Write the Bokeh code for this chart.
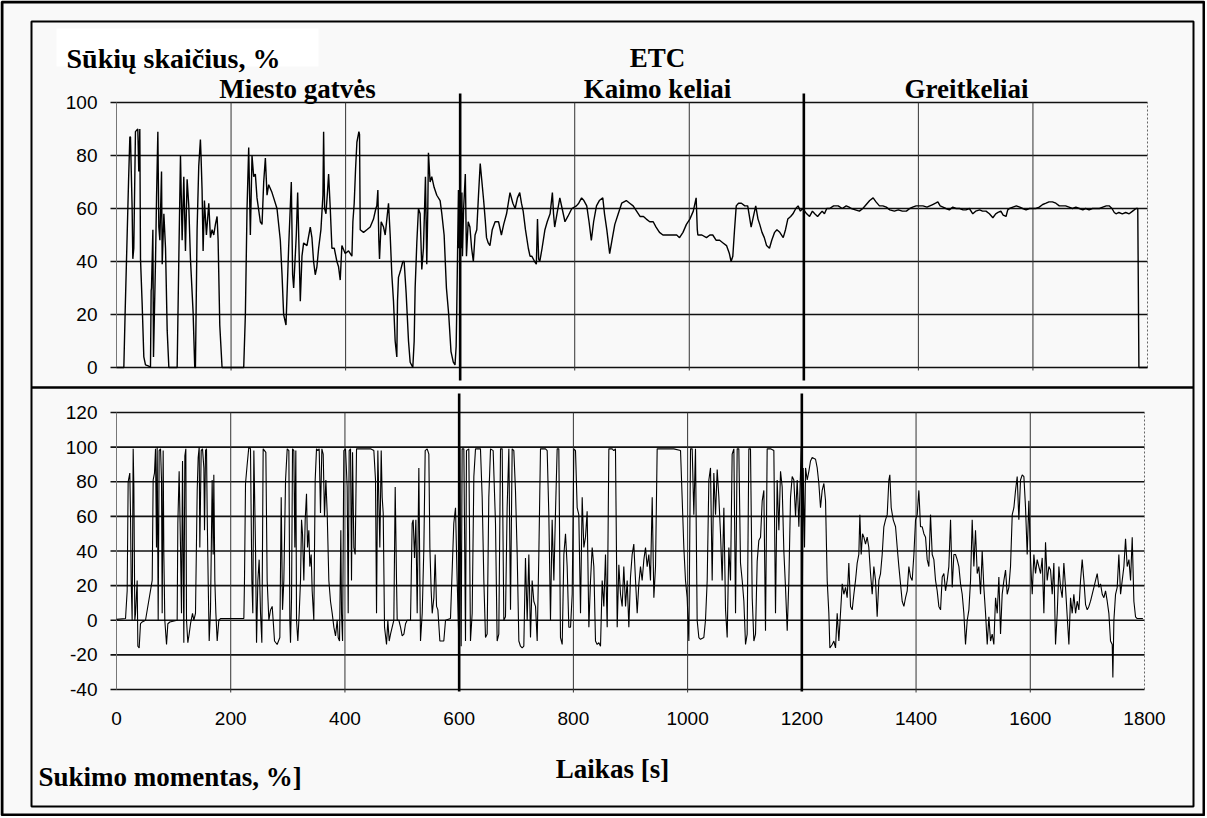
from bokeh.plotting import figure
from bokeh.models import Range1d
from bokeh.embed import file_html
from bokeh.resources import INLINE
from bokeh.core.properties import value

# ---------------- data ----------------
speed_t = [0, 12.8, 15, 18.6, 21, 23.3, 24.4, 27.3, 28.5, 30.2, 33.1, 37.2, 38.9, 40.7, 41.9, 44.8, 47.7, 50.6,
           56.4, 59.3, 60.5, 61.1, 63.5, 64.6, 68.1, 69.9, 72.2, 73.9, 75.7, 78.6, 79.8, 82.7, 85.6, 88.5, 91.4,
           105.9, 108.8, 111.7, 114.6, 117.5, 120.4, 123.3, 126.2, 129.1, 133.7, 136.6, 137.8, 140.7, 143.6,
           146.5, 147.7, 149.4, 151.2, 153.5, 157, 161.1, 164, 166.9, 169.8, 172.7, 175.6, 177.4, 180.3, 184.3,
           222.1, 225, 227.9, 230.8, 233.7, 236.6, 239.5, 242.4, 245.3, 251.1, 254.1, 257, 259.9, 262.8, 265.7,
           271.5, 274.4, 280.2, 286, 289, 291.8, 295.9, 300.5, 305.2, 307.5, 309.3, 313.9, 316.3, 319.2, 320.9,
           323.8, 326.7, 332.5, 338.3, 341.2, 344.1, 347, 349.9, 352.9, 356.9, 360.4, 361.6, 363.3, 365.7, 368.6,
           370.3, 373.2, 376.1, 380.2, 384.8, 387.7, 390.6, 393.5, 399.3, 405.1, 411, 412.7, 415, 417.4, 419.7,
           423.2, 424.3, 425.5, 431.3, 437.1, 442.9, 448.7, 452.8, 454.5, 456.3, 458, 459.2, 462.1, 466.2, 469.1,
           472, 474.9, 477.8, 480.7, 483.6, 486.5, 489.4, 490.6, 492.3, 496.4, 499.9, 502.2, 505.7, 509.8, 512.7,
           517.3, 519.7, 521.4, 524.3, 527.2, 530.1, 533, 535.9, 539.4, 541.7, 543.5, 544.6, 547.5, 550.4, 554.5,
           559.2, 565, 568, 572, 576, 580, 584, 588, 591, 593, 594, 597, 598, 599, 600, 601, 602, 603, 604, 606,
           609, 611, 614, 617, 620, 623, 626, 629, 632, 635, 638, 641, 644, 646, 649, 652, 656, 661, 667, 672,
           676, 681, 687, 692, 696, 700, 704, 707, 710, 714, 719, 722, 725, 730, 733, 735, 737, 739, 743, 748,
           752, 757, 761, 763, 765, 769, 774, 778, 783, 788, 795, 803, 807, 812, 816, 821, 825, 829, 833, 838,
           843, 849, 852, 856, 861, 865, 870, 876, 882, 890, 896, 902, 908, 914, 920, 925, 931, 937, 942, 948,
           954, 960, 966, 972, 978, 983, 989, 995, 1001, 1007, 1012, 1014, 1015, 1022, 1030, 1036, 1041, 1047,
           1053, 1059, 1065, 1070, 1073, 1076, 1079, 1082, 1086, 1091, 1097, 1102, 1105, 1108, 1112, 1116, 1120,
           1123, 1127, 1131, 1135, 1140, 1144, 1149, 1153, 1158, 1164, 1168, 1172, 1177, 1181, 1186, 1190, 1194,
           1198, 1205, 1210, 1215, 1219, 1224, 1228, 1232, 1236, 1240, 1245, 1252, 1260, 1267, 1274, 1279, 1283,
           1290, 1297, 1303, 1309, 1315, 1321, 1326, 1332, 1338, 1344, 1350, 1358, 1365, 1372, 1379, 1385, 1390,
           1396, 1402, 1408, 1415, 1420, 1425, 1430, 1434, 1438, 1443, 1448, 1454, 1460, 1466, 1472, 1478, 1483,
           1489, 1495, 1500, 1507, 1512, 1518, 1524, 1530, 1535, 1539, 1544, 1548, 1553, 1556, 1559, 1565, 1571,
           1577, 1582, 1588, 1594, 1600, 1605, 1611, 1617, 1623, 1628, 1634, 1640, 1646, 1652, 1657, 1663, 1669,
           1675, 1681, 1687, 1692, 1698, 1704, 1710, 1716, 1722, 1728, 1733, 1738, 1742, 1745, 1750, 1756, 1762,
           1768, 1774, 1780, 1783, 1785, 1800]
speed_v = [0, 0, 20, 50, 70, 87, 87, 60, 41, 45, 89, 90, 74, 90, 41, 24, 4, 1,
           0.5, 0, 29, 30, 52, 4, 40, 64, 89, 53, 48, 74, 39, 58, 45, 14, 0,
           0, 41, 80, 48, 72, 44, 71, 61, 41, 21, 0, 0, 52, 76,
           86, 79, 67, 44, 63, 50, 62, 49, 52, 50, 54, 57, 48, 16, 0,
           0, 20, 60, 83, 50, 80, 72, 73, 64, 55, 54, 70, 79, 65, 69,
           66, 64, 60, 48, 35, 20, 16, 45, 70, 35, 30, 50, 66, 40, 25,
           42, 47, 46, 53, 49, 40, 35, 38, 45, 52, 65, 89, 60, 58, 67,
           73, 60, 45, 45, 40, 38, 33, 46, 43, 44, 42, 55, 62, 75, 85,
           89, 88, 52, 51, 52, 53, 56, 60, 61, 67, 48, 41, 55, 53, 50,
           56, 62, 50, 35, 25, 10, 4, 25, 34, 37, 40, 40, 28, 10, 2,
           0, 10, 30, 47, 60, 58, 37, 45, 72, 39, 60, 81, 70, 72, 68,
           65, 63, 58, 50, 30, 20, 6, 2, 1, 8, 21, 67, 45, 62, 30, 60, 45, 66, 42, 60,
           73, 42, 55, 53, 45, 40, 50, 52, 65, 77, 70, 63, 55, 49, 47, 46, 52, 55, 55, 50,
           54, 58, 66, 62, 60, 64, 66, 62, 59, 52, 45, 42, 42, 40, 39, 56, 41, 40, 45, 52,
           55, 58, 66, 58, 53, 58, 64, 60, 55, 57, 60, 61, 62, 64, 63, 61, 55, 48, 55, 61,
           63, 64, 58, 52, 43, 48, 54, 58, 62, 63, 62, 61, 59, 57, 57, 56, 55, 55, 53, 51,
           50, 50, 50, 50, 50, 49, 51, 54, 56, 59, 64, 52, 50, 50, 49, 50, 50, 48,
           48, 47, 46, 43, 40, 42, 52, 61, 62, 62, 61, 61, 57, 53, 57, 61, 56,
           54, 51, 49, 46, 45, 48, 51, 52, 51, 49, 52, 56, 57, 58, 60, 61, 59,
           60, 58, 57, 59, 58, 57, 58, 59, 58, 60, 60, 61, 61, 60, 61, 60.5, 60,
           59.5, 59, 60, 61.5, 63, 64, 62.5, 61, 61, 60.5, 59.5, 59, 59.5, 59, 59, 60, 60.5,
           61, 61, 61, 60.5, 61, 61.5, 62, 62.5, 61, 60.5, 60, 59.5, 60.5, 60, 60, 59.5, 59.5,
           60, 58, 59, 59.5, 59, 59, 58, 56.5, 58, 58.5, 59, 57.5, 57, 59.5, 60, 60.5, 61,
           60.5, 60, 59.5, 60, 60, 60, 60.5, 61.5, 62, 62.5, 62.5, 62, 61, 61, 61, 60.5, 60,
           60.5, 60, 59.5, 60, 59.5, 60, 60, 60, 60.5, 61, 61, 60, 58.5, 58, 58.5, 58, 58.5,
           58, 59, 60, 60, 0, 0]

torque_t = [0, 15.8, 18.7, 20.4, 23.3, 24.5, 25.7, 27.4, 29.2, 30.4, 32.1, 33.3, 36.2, 37.4, 39.7, 42, 45, 50.8,
            62.5, 64.2, 66.5, 68.3, 70, 71.2, 73, 74.7, 77.1, 78.8, 80, 81.7, 82.9, 84.6, 87.6, 89.9, 93.4,
            106.2, 107.4, 109.7, 112.1, 113.8, 115.6, 117.9, 119.7, 121.4, 122.6, 124.9, 127.2, 129.6, 133.1,
            135.4, 138.3, 141.3, 143, 144.8, 145.9, 148.3, 150.6, 153, 154.1, 155.9, 157.6, 158.8, 160.5, 162.3,
            164.6, 167.5, 169.3, 170.4, 172.2, 174, 176.3, 179.2, 182.1, 223, 224.1, 225.9, 228.8, 231.7, 234.6,
            237, 238.7, 240.5, 243.4, 245.2, 247.5, 249.8, 252.2, 254.5, 256.8, 259.2, 261.5, 263.8, 266.8,
            269.7, 272.6, 274.3, 276.7, 281.3, 286, 288.4, 290.7, 293, 296, 298.9, 301.8, 303.5, 304.7, 306.5,
            308.2, 310.5, 312.3, 314, 315.2, 317.5, 319.9, 322.2, 324, 325.7, 328, 330.4, 332.7, 334.5, 336.8,
            338.5, 340.9, 342.6, 345.5, 347.9, 350.2, 352.5, 354.9, 357.2, 359.6, 361.9, 364.2, 366.6, 368.9,
            371.8, 374.7, 377.7, 380.6, 383.5, 386.4, 388.2, 390.5, 392.8, 394, 395.8, 398.1, 401, 403.9, 405.7,
            407.4, 409.8, 411.5, 413.3, 415.6, 417.9, 420.3, 424.4, 430.2, 436, 444.8, 450.6, 453.5, 455.3,
            457.6, 461.1, 463.5, 465.2, 467, 469.3, 472.8, 475.1, 477.5, 479.8, 482.7, 485.6, 488, 490.3,
            491.5, 494.4, 497.3, 500.2, 503.2, 506.1, 509, 514.8, 517.7, 519.5, 521.8, 524.2, 526.5, 529.4,
            531.2, 532.3, 535.3, 538.2, 540.5, 544, 546.9, 548.7, 551, 552.8, 555.7, 558, 560.4, 562.7, 566.2,
            573.1, 576.1, 584.8, 590.6, 593.6, 596.5, 599.4, 601.2, 603.5, 605.2, 608.2, 611.1, 612.8, 616.9,
            619.8, 622.8, 625.7, 628.6, 631.5, 634.4, 637.3, 640.3, 643.2, 646.1, 649, 651.9, 654.9, 659.5,
            663.6, 666.5, 669.4, 672.4, 675.3, 678.2, 681.1, 684, 687, 689.9, 692.8, 695.7, 698.6, 701.6, 704.5,
            707.4, 710.3, 713.2, 716.1, 719.1, 722, 724.9, 727.8, 730.7, 733.7, 736.6, 739.5, 742.4, 745.3,
            748.3, 751.2, 754.1, 757, 759.9, 762.8, 765.8, 768.7, 771.6, 774.5, 777.4, 780.4, 783.3, 786.2,
            789.1, 792, 795, 797.9, 800.8, 803.7, 806.6, 809.5, 812.5, 815.4, 818.3, 821.2, 824.1, 827.1, 830,
            832.9, 835.8, 838.7, 841.6, 844.6, 847.5, 850.4, 853.3, 856.2, 859.2, 862.1, 865, 867.9, 870.8,
            873.7, 876.7, 879.6, 882.5, 885.4, 888.3, 891.3, 894.2, 897.1, 900, 902.9, 905.8, 908.8, 911.7,
            914.6, 917.5, 920.4, 923.4, 926.3, 929.2, 932.1, 935, 938, 940.9, 943.8, 946.7, 952.5, 964.2, 975.9,
            987.6, 993.4, 996.3, 999.2, 1002.2, 1005.1, 1008, 1010.9, 1013.8, 1016.7, 1019.7, 1022.6, 1028.4,
            1031.3, 1034.3, 1037.2, 1040.1, 1043, 1045.9, 1048.9, 1051.8, 1054.7, 1057.6, 1060.5, 1063.5,
            1066.4, 1069.3, 1072.2, 1075.1, 1078, 1081, 1083.9, 1086.8, 1089.7, 1092.6, 1095.6, 1098.5, 1101.4,
            1104.3, 1107.2, 1110.1, 1113.1, 1116, 1118.9, 1121.8, 1124.7, 1127.7, 1130.6, 1133.5, 1136.4,
            1139.3, 1145.2, 1151, 1153.9, 1156.8, 1159.8, 1162.7, 1165.6, 1168.5, 1171.4, 1174.4, 1177.3,
            1180.2, 1183.1, 1186, 1189, 1191.9, 1194.8, 1197.7, 1199, 1200.6, 1202.4, 1204.7, 1206.5,
            1209.4, 1212.3, 1215.2, 1218.1, 1224, 1226.9, 1229.8, 1232.7, 1235.6, 1238.6, 1241.5, 1243.2,
            1244.4, 1247.3, 1249.1, 1253.2, 1256.1, 1259, 1261.9, 1264.8, 1267.7, 1270.7, 1273.6, 1276.5,
            1279.4, 1282.3, 1285.3, 1288.2, 1291.1, 1294, 1296.9, 1299.8, 1301.6, 1303.9, 1306.3, 1308.6,
            1311.5, 1314.4, 1317.3, 1320.3, 1323.2, 1326.1, 1329, 1331.9, 1334.9, 1337.8, 1340.7, 1343.6,
            1346.5, 1349.5, 1352.4, 1354.1, 1356.5, 1360, 1364.1, 1367, 1369.9, 1372.8, 1375.7, 1378.7,
            1381.6, 1384.5, 1387.4, 1390.3, 1393.2, 1396.2, 1399.1, 1402, 1404.9, 1407.8, 1410.8, 1413.7,
            1416.6, 1419.5, 1422.4, 1425.3, 1428.3, 1431.2, 1434.1, 1437, 1439.9, 1442.9, 1445.8, 1448.7,
            1451.6, 1454.5, 1457.4, 1460.4, 1463.3, 1466.2, 1469.1, 1472, 1475, 1477.9, 1480.8, 1483.7,
            1486.6, 1489.6, 1492.5, 1495.4, 1498.3, 1501.2, 1504.1, 1507.1, 1510, 1512.9, 1515.8, 1518.7,
            1521.7, 1524.6, 1527.5, 1530.4, 1533.3, 1536.2, 1539.2, 1542.1, 1545, 1547.9, 1550.8, 1553.8,
            1556.7, 1559.6, 1562.5, 1565.4, 1568.4, 1571.3, 1574.2, 1577.1, 1580, 1582.9, 1585.9, 1588.8,
            1591.7, 1594.6, 1597.5, 1600.5, 1603.4, 1606.3, 1609.2, 1612.1, 1615, 1618, 1620.9, 1623.8,
            1626.7, 1629.6, 1632.6, 1635.5, 1638.4, 1641.3, 1644.2, 1647.2, 1650.1, 1653, 1655.9, 1658.8,
            1661.7, 1664.7, 1667.6, 1670.5, 1673.4, 1676.3, 1679.3, 1682.2, 1685.1, 1688, 1690.9, 1693.9,
            1696.8, 1699.7, 1702.6, 1705.5, 1708.4, 1711.4, 1714.3, 1717.2, 1720.1, 1723, 1726, 1728.9,
            1731.8, 1734.7, 1737.6, 1740.5, 1743.5, 1744.6, 1746.4, 1749.3, 1752.2, 1755.1, 1758.1, 1761,
            1763.9, 1766.8, 1769.7, 1772.7, 1775.6, 1778.5, 1781.4, 1784.3, 1787.2, 1793.1, 1797.2]
torque_v = [0.5, 1, 17, 80, 85, 62, 23, 0, 99, 77, 0, 4, 23, -15, -16, -2, -1, 0,
            23, 81, 85, 99, 42, 100, 0, 98, 99, 81, 4, 98, 38, 0, -14, -2, -1,
            0, 56, 86, 42, 4, 92, -13, 95, 99, 0, -13, -8, -2, 4,
            0, 4, 75, 94, 100, 42, 98, 99, 88, 52, 98, 99, 62, 23, -12,
            6, 81, 38, 84, 23, 4, -12, 0, 1, 1, 23, 79, 90, 100, 99,
            23, 4, 98, 42, -13, 23, 35, 4, -13, 99, 98, 97, 23, 0,
            6, 8, 0, -12, -14, -10, 71, 6, 23, 81, 99, 98, 0, -13, 13,
            99, 98, 42, 98, 0, -12, 4, 23, 58, 50, 23, 58, 73, 42, 52,
            31, 38, 17, 0, 81, 99, 98, 99, 62, 99, 96, 60, 81, 62,
            23, 11, 4, -4, -9, 0, -10, -12, 52, 4, -12, 98, 99, 77, 4,
            98, 99, 23, 97, 42, 38, 99, 99, 99, 99, 99, 98, 81, 4,
            98, 42, 98, 71, 62, -4, -14, 0, -12, -8, -4, 0, 77, 23,
            0, 0, -4, -9, -8, -2, 0, 0, 56, 58, 36, 58, 4, 88,
            23, -12, 4, 42, 98, 99, 96, 42, 17, 4, 13, 38, 8, 6, -12,
            -12, 0, 1, 56, 65, 23, -12, 100, -15, 99, 99, -12, 98, 99,
            -12, 4, 83, 99, 99, 99, 99, 71, 23, -10, -8, 71, 99, 98,
            56, -12, -8, 99, 99, 0, 2, 65, 99, 6, 99, 98, 75, 38, -12,
            -15, -16, -15, 36, 0, 38, -10, 23, 11, 8, -12, 38, 99, 99,
            99, 99, 98, 61, 0, 58, 23, 63, 99, 99, -10, -14, 38, 50,
            31, -4, -4, 15, 99, 98, 65, 61, 4, 71, 42, 48, 63, -4, 23,
            42, 31, -12, -14, -13, -15, 23, 8, 38, -4, 99, 99, 99, 98,
            99, -4, 32, 15, 8, 31, 8, 23, -4, 25, 38, 44, 23, 4,
            21, 31, 23, 35, 42, 31, 38, 23, 71, 13, 31, 99, 99, 99, 99,
            98, 42, 23, 13, -12, 99, 99, 61, 99, 0, -10, -11, -10,
            0, 23, 81, 88, 23, 85, 61, 87, 71, 50, 23, 65,
            6, -10, 42, 23, 96, 99, 4, 99, 99, 33, 23, 11, -14,
            -8, 99, 99, 13, -12, -8, 34, 46, 48, 69, 75, -6,
            99, 99, 98, 4, 81, 52, 86, 77, 40, 19, -6, 23,
            71, 83, 81, 60, 81, 54, 86, 100, -12, 88, 42, 88,
            81, 86, 92, 94, 93, 88, 79, 65, 75, 79, 69, 42,
            23, 4, -16, -14, -12, -16, 4, -12, 4, 21, 15, 19,
            13, 33, 8, 6, 15, 23, 33, 38, 61, 38, 50, 48,
            44, 48, 42, 27, 15, 31, 23, 2, 23, 27, 38, 54,
            58, 61, 81, 84, 65, 58, 54, 42, 31, 21, 11, 8,
            13, 17, 31, 25, 23, 38, 58, 61, 75, 54, 54, 50,
            48, 35, 31, 61, 38, 35, 23, 17, 8, 6, 25, 27,
            17, 23, 31, 58, 19, 38, 38, 35, 31, 21, 15, 4,
            -14, 0, 6, 23, 58, 31, 52, 27, 31, 15, 40, 19,
            4, -14, 2, -12, -8, -14, 13, 4, 25, -8, 15, 23,
            29, 15, 19, 31, 61, 65, 75, 83, 58, 81, 84, 83,
            65, 38, 69, 35, 15, 38, 27, 35, 31, 27, 36, 4,
            45, 23, 31, 29, 15, 33, -14, 4, 31, 19, 13, 33,
            19, 2, -14, 13, 4, 15, 4, 11, 6, 23, 35, 23,
            9, 6, 8, 11, 15, 19, 23, 27, 19, 21, 15, 13,
            17, 11, 4, -12, -14, -33, 0, 15, 19, 38, 15, 23,
            31, 47, 31, 35, 23, 48, 11, 2, 1, 1, 1]

x_ticks = [0, 200, 400, 600, 800, 1000, 1200, 1400, 1600, 1800]
x_tick_labels = ["0", "200", "400", "600", "800", "1000", "1200", "1400", "1600", "1800"]
speed_ticks = [0, 20, 40, 60, 80, 100]
torque_ticks = [-40, -20, 0, 20, 40, 60, 80, 100, 120]
section_bounds = [600, 1200]
thin_x_grid = [200, 400, 800, 1000, 1400, 1600]

# ---------------- layout (page pixels; the page has no offset) ----------------
W, H = 1205, 816

TOP_L, TOP_R, TOP_Y100, TOP_Y0 = 116, 1147, 102, 367
BOT_L, BOT_R, BOT_Y120, BOT_YM40 = 116, 1144, 412, 689

s1 = (TOP_R - TOP_L) / 1800.0
s2 = (BOT_R - BOT_L) / 1800.0
k1 = (TOP_Y0 - TOP_Y100) / 100.0
k2 = (BOT_YM40 - BOT_Y120) / 160.0

p = figure(width=W, height=H, x_range=Range1d(0, W), y_range=Range1d(H, 0),
           x_axis_type=None, y_axis_type=None, toolbar_location=None,
           output_backend="svg", min_border=0, title=None)
p.outline_line_color = None
p.background_fill_color = "#f9f9f9"
p.border_fill_color = "#f9f9f9"

p.extra_x_ranges = {
    "t1": Range1d(-TOP_L / s1, (W - TOP_L) / s1),
    "t2": Range1d(-BOT_L / s2, (W - BOT_L) / s2),
}
p.extra_y_ranges = {
    "top": Range1d((TOP_Y0 - H) / k1, TOP_Y0 / k1),
    "bot": Range1d(-40 + (BOT_YM40 - H) / k2, -40 + BOT_YM40 / k2),
}

# white label box and frames (pixel space)
p.quad(left=[56], right=[318], top=[28], bottom=[66], fill_color="white", line_color=None)
p.quad(left=[1.5], right=[W - 1.5], top=[1.5], bottom=[H - 1.5],
       fill_color=None, line_color="black", line_width=3)
p.quad(left=[31], right=[1193], top=[21], bottom=[806],
       fill_color=None, line_color="black", line_width=2)
p.segment(x0=[31], x1=[1193], y0=[387], y1=[387], line_color="black", line_width=2.5)

# ---------- top panel grid ----------
ext1 = 6 / s1
p.segment(x0=[-ext1] * len(speed_ticks), x1=[1800] * len(speed_ticks), y0=speed_ticks, y1=speed_ticks,
          x_range_name="t1", y_range_name="top", line_color="#111111", line_width=1.6)
p.segment(x0=thin_x_grid, x1=thin_x_grid, y0=[-3 / k1] * len(thin_x_grid), y1=[100] * len(thin_x_grid),
          x_range_name="t1", y_range_name="top", line_color="#333333", line_width=1)
p.segment(x0=[0], x1=[0], y0=[0], y1=[100], x_range_name="t1", y_range_name="top",
          line_color="#777777", line_width=1)
p.segment(x0=[1800], x1=[1800], y0=[0], y1=[100], x_range_name="t1", y_range_name="top",
          line_color="#666666", line_width=1, line_dash="2 2")
p.segment(x0=section_bounds, x1=section_bounds, y0=[-13 / k1] * 2, y1=[100 + 9 / k1] * 2,
          x_range_name="t1", y_range_name="top", line_color="black", line_width=2.6)

# ---------- bottom panel grid ----------
ext2 = 6 / s2
p.segment(x0=[-ext2] * len(torque_ticks), x1=[1800] * len(torque_ticks), y0=torque_ticks, y1=torque_ticks,
          x_range_name="t2", y_range_name="bot", line_color="#111111", line_width=1.6)
p.segment(x0=thin_x_grid, x1=thin_x_grid, y0=[-40 - 3 / k2] * len(thin_x_grid), y1=[120] * len(thin_x_grid),
          x_range_name="t2", y_range_name="bot", line_color="#333333", line_width=1)
p.segment(x0=[0], x1=[0], y0=[-40], y1=[120], x_range_name="t2", y_range_name="bot",
          line_color="#777777", line_width=1)
p.segment(x0=[1800], x1=[1800], y0=[-40], y1=[120], x_range_name="t2", y_range_name="bot",
          line_color="#666666", line_width=1, line_dash="2 2")
p.segment(x0=section_bounds, x1=section_bounds, y0=[-40 - 2 / k2] * 2, y1=[120 + 19 / k2] * 2,
          x_range_name="t2", y_range_name="bot", line_color="black", line_width=2.6)

# ---------- data ----------
p.line(speed_t, speed_v, x_range_name="t1", y_range_name="top", line_color="black", line_width=1.4)
p.line(torque_t, torque_v, x_range_name="t2", y_range_name="bot", line_color="black", line_width=1.1)

# ---------- tick labels ----------
tick_font = value("Liberation Sans")
p.text(x=[0] * len(speed_ticks), y=speed_ticks, text=[str(v) for v in speed_ticks],
       x_range_name="t1", y_range_name="top", x_offset=-19, text_align="right", text_baseline="middle",
       text_font=tick_font, text_font_size="19px", text_color="black")
p.text(x=[0] * len(torque_ticks), y=torque_ticks, text=[str(v) for v in torque_ticks],
       x_range_name="t2", y_range_name="bot", x_offset=-19, text_align="right", text_baseline="middle",
       text_font=tick_font, text_font_size="19px", text_color="black")
p.text(x=x_ticks, y=[-40] * len(x_ticks), text=x_tick_labels,
       x_range_name="t2", y_range_name="bot", y_offset=29, text_align="center", text_baseline="middle",
       text_font=tick_font, text_font_size="19px", text_color="black")

# ---------- titles ----------
serif = value("Liberation Serif")
p.text(x=[66], y=[58], text=["Sūkių skaičius, %"], text_font=serif, text_font_style="bold",
       text_font_size="28px", text_align="left", text_baseline="alphabetic", text_color="black")
p.text(x=[657, 297, 657, 966], y=[57, 88, 88, 88],
       text=["ETC", "Miesto gatvės", "Kaimo keliai", "Greitkeliai"], text_font=serif,
       text_font_style="bold", text_font_size="27px", text_align="center", text_baseline="alphabetic",
       text_color="black")
p.text(x=[612], y=[768], text=["Laikas [s]"], text_font=serif, text_font_style="bold",
       text_font_size="27px", text_align="center", text_baseline="alphabetic", text_color="black")
p.text(x=[38], y=[776], text=["Sukimo momentas, %]"], text_font=serif, text_font_style="bold",
       text_font_size="27px", text_align="left", text_baseline="alphabetic", text_color="black")

open("out.html", "w").write(file_html(p, INLINE))
